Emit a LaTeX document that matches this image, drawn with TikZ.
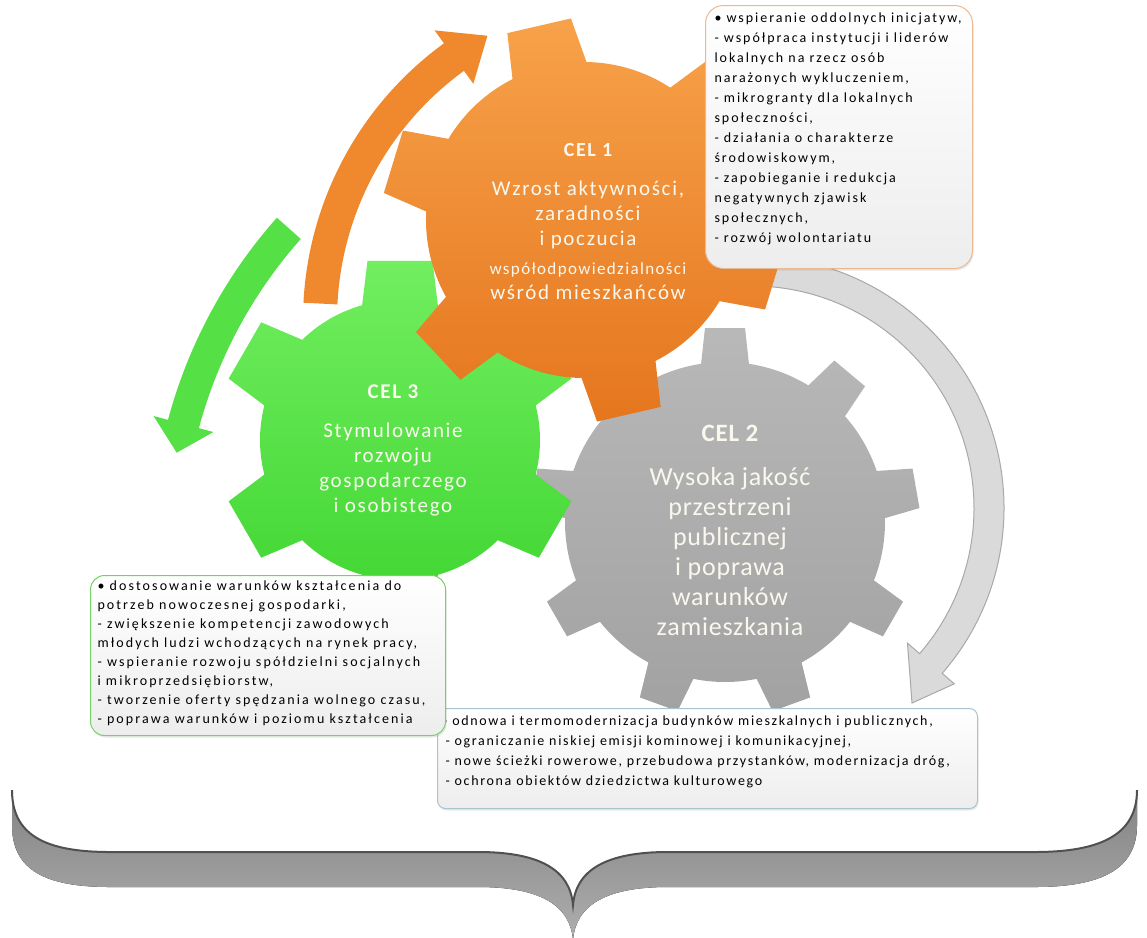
\documentclass[tikz,border=0pt]{standalone}
\usepackage{fontspec}
\setmainfont{Carlito}
\newfontfamily\boxfontA[LetterSpace=14]{Carlito}
\newfontfamily\boxfontB[LetterSpace=15]{Carlito}
\newfontfamily\boxfontC[LetterSpace=12]{Carlito}
\newfontfamily\gfontA[LetterSpace=8]{Carlito}
\newfontfamily\gfontB[LetterSpace=3]{Carlito}
\usetikzlibrary{shadows}
\definecolor{orA}{HTML}{F7A24A}
\definecolor{orB}{HTML}{E5761E}
\definecolor{grA}{HTML}{72EE60}
\definecolor{grB}{HTML}{3ED530}
\definecolor{gyA}{HTML}{B8B8B8}
\definecolor{gyB}{HTML}{A2A2A2}
\definecolor{arOr}{HTML}{F0892E}
\definecolor{arGr}{HTML}{55E045}
\definecolor{arGy}{HTML}{DADADA}
\definecolor{arGyD}{HTML}{A8A8A8}
\definecolor{bOr}{HTML}{EDB890}
\definecolor{bGr}{HTML}{78D068}
\definecolor{bGy}{HTML}{A8C4D0}
\definecolor{brD}{HTML}{505050}
\definecolor{brF}{HTML}{9A9A9A}
\definecolor{gtxt}{HTML}{FAF8EE}
\newcommand{\mygear}[8]{%
  \begin{scope}[shift={(#1)}]
    \path[#8] ({#3-#7}:#5)
      \foreach \k [evaluate=\k as \a using #3+360/#2*(\k-1)] in {1,...,#2} {
        -- ({\a-#6}:#4) -- ({\a+#6}:#4) -- ({\a+#7}:#5)
        arc[start angle=\a+#7, end angle=\a+360/#2-#7, radius=#5]
      } -- cycle;
  \end{scope}}
\tikzset{
  geartext/.style={text=gtxt, align=center, inner sep=0pt},
  boxnode/.style={anchor=north west, inner xsep=9pt, inner ysep=0pt, line width=1pt,
     top color=white, bottom color=black!7, drop shadow={opacity=0.18, shadow xshift=1pt, shadow yshift=-2pt}},
}
\begin{document}
\begin{tikzpicture}[x=1pt,y=-1pt]
\useasboundingbox (0,0) rectangle (1147,937);
% arrows
\begin{scope}[shift={(645,320)}]
  \fill[arOr] (182.9:308) arc[start angle=182.9, end angle=234, radius=308] -- (234:292) -- (241:325) -- (234:358) -- (234:342) arc[start angle=234, end angle=182.9, radius=342] -- cycle;
\end{scope}
\begin{scope}[shift={(650,549)}]
  \fill[arGr] (221.6:467) arc[start angle=221.6, end angle=195, radius=467] -- (195:452) -- (191.5:483) -- (195:514) -- (195:499) arc[start angle=195, end angle=221.6, radius=499] -- cycle;
\end{scope}
\begin{scope}[shift={(752,508)}]
  \filldraw[fill=arGy, draw=arGyD, line width=1pt] (-97:222) arc[start angle=-97, end angle=41, radius=222] -- (41:206) -- (160,195) -- (41:268) -- (41:252) arc[start angle=41, end angle=-97, radius=252] -- cycle;
\end{scope}
% gears
\mygear{725,522}{9}{-90}{195}{160}{5.9}{8.6}{top color=gyA, bottom color=gyB}
\mygear{400,440}{6}{-90}{182}{140}{10.3}{15.7}{top color=grA, bottom color=grB}
\mygear{584,220}{6}{-103}{202}{158}{9.3}{13.9}{top color=orA, bottom color=orB}
% gear texts
\node[geartext, font=\gfontA\fontsize{21}{25}\selectfont] (cel1) at (588,222)
  {{\bfseries\fontsize{20}{20}\selectfont CEL 1}\\[14pt] Wzrost aktywności,\\ zaradności\\ i poczucia\\[4pt]
   {\fontsize{17}{25}\selectfont współodpowiedzialności}\\ wśród mieszkańców};
\node[geartext, font=\gfontA\fontsize{21}{25}\selectfont] (cel3) at (393,450)
  {{\bfseries\fontsize{21}{21}\selectfont CEL 3}\\[14pt] Stymulowanie\\ rozwoju\\ gospodarczego\\ i osobistego};
\node[geartext, font=\gfontB\fontsize{26}{30}\selectfont] (cel2) at (730,530)
  {{\bfseries\fontsize{25}{25}\selectfont CEL 2}\\[14pt] Wysoka jakość\\ przestrzeni\\ publicznej\\ i poprawa\\ warunków\\ zamieszkania};
% boxes
\node[boxnode, draw=bOr, rounded corners=18pt] (box1) at (705,5)
  {\parbox[c][263pt][t]{249pt}{\vspace*{3pt}\boxfontA\fontsize{14}{20}\selectfont\begin{tabular}{@{}l@{}}
  • wspieranie oddolnych inicjatyw,\\
  - współpraca instytucji i liderów\\
  lokalnych na rzecz osób\\
  narażonych wykluczeniem,\\
  - mikrogranty dla lokalnych\\
  społeczności,\\
  - działania o charakterze\\
  środowiskowym,\\
  - zapobieganie i redukcja\\
  negatywnych zjawisk\\
  społecznych,\\
  - rozwój wolontariatu
  \end{tabular}}};
\node[boxnode, draw=bGy, rounded corners=8pt, inner xsep=3pt] (box3) at (437,708)
  {\parbox[c][100pt][t]{534pt}{\vspace*{3pt}\boxfontC\fontsize{14}{20}\selectfont\begin{tabular}{@{}l@{}}
  • odnowa i termomodernizacja budynków mieszkalnych i publicznych,\\
  \hspace*{5pt}- ograniczanie niskiej emisji kominowej i komunikacyjnej,\\
  \hspace*{5pt}- nowe ścieżki rowerowe, przebudowa przystanków,  modernizacja dróg,\\
  \hspace*{5pt}- ochrona obiektów dziedzictwa kulturowego
  \end{tabular}}};
\node[boxnode, draw=bGr, rounded corners=14pt, inner xsep=7pt] (box2) at (90,575)
  {\parbox[c][160pt][t]{341pt}{\vspace*{2pt}\boxfontB\fontsize{14}{19}\selectfont\begin{tabular}{@{}l@{}}
  • dostosowanie  warunków kształcenia do\\
  potrzeb nowoczesnej gospodarki,\\
  - zwiększenie kompetencji zawodowych\\
  młodych ludzi wchodzących na rynek pracy,\\
  - wspieranie rozwoju spółdzielni socjalnych\\
  i mikroprzedsiębiorstw,\\
  - tworzenie oferty spędzania wolnego czasu,\\
  - poprawa warunków i poziomu kształcenia
  \end{tabular}}};
% brace
\fill[top color=brF!85!black, bottom color=brF!80!white] (12,790) .. controls (12,835) and (45,852) .. (110,852) -- (478,852) .. controls (540,852) and (570,870) .. (573,905) .. controls (576,870) and (606,852) .. (668,852) -- (1035,852) .. controls (1100,852) and (1137,835) .. (1137,790) -- (1137,825) .. controls (1137,870) and (1100,887) .. (1035,887) -- (668,887) .. controls (606,887) and (576,905) .. (573,940) .. controls (570,905) and (540,887) .. (478,887) -- (110,887) .. controls (45,887) and (12,870) .. (12,825) -- cycle;
\draw[brD, line width=2pt] (12,790) .. controls (12,835) and (45,852) .. (110,852) -- (478,852) .. controls (540,852) and (570,870) .. (573,905) .. controls (576,870) and (606,852) .. (668,852) -- (1035,852) .. controls (1100,852) and (1137,835) .. (1137,790);
\end{tikzpicture}
\end{document}
